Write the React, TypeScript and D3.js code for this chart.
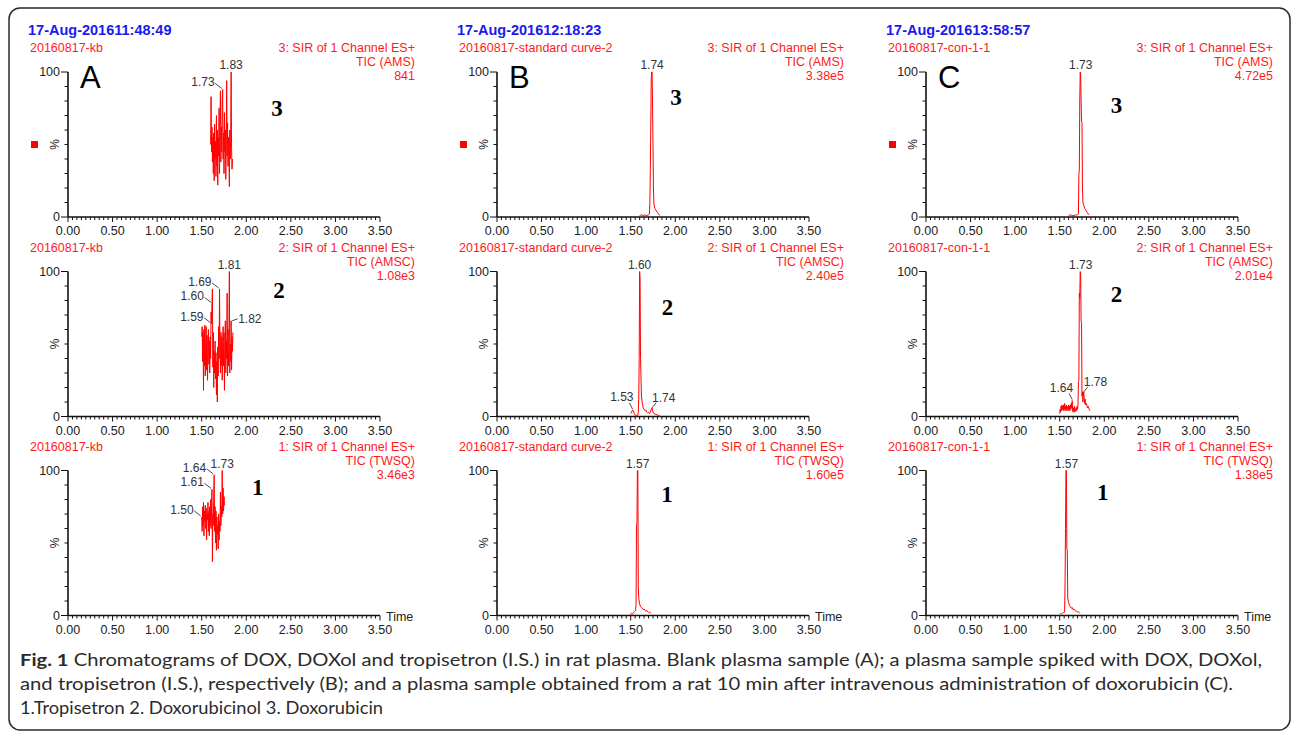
import * as d3 from 'd3';
import React from 'react';

// panel headers
const panelLetters = ['A', 'B', 'C'];
const acquiredAt = ['17-Aug-201611:48:49', '17-Aug-201612:18:23', '17-Aug-201613:58:57'];
const sampleNames = ['20160817-kb', '20160817-standard curve-2', '20160817-con-1-1'];
const channels = ['3: SIR of 1 Channel ES+', '2: SIR of 1 Channel ES+', '1: SIR of 1 Channel ES+'];
const ticNames = ['TIC (AMS)', 'TIC (AMSC)', 'TIC (TWSQ)'];
const compoundNums = ['3', '2', '1'];
const maxIntensity = [
  ['841', '1.08e3', '3.46e3'],
  ['3.38e5', '2.40e5', '1.60e5'],
  ['4.72e5', '2.01e4', '1.38e5'],
];
const timeTicks = [0, 0.5, 1, 1.5, 2, 2.5, 3, 3.5];

// traces, [time (min), relative abundance %]
const blankDox = [
  [1.600, 50], [1.605, 83], [1.610, 45], [1.615, 62], [1.620, 38], [1.625, 55], [1.630, 30], [1.635, 58],
  [1.640, 25], [1.645, 64], [1.650, 40], [1.655, 52], [1.660, 28], [1.665, 70], [1.670, 35], [1.675, 60],
  [1.680, 22], [1.685, 55], [1.690, 42], [1.695, 75], [1.700, 30], [1.705, 68], [1.710, 87], [1.715, 38],
  [1.720, 62], [1.725, 45], [1.730, 80], [1.735, 88], [1.740, 40], [1.745, 58], [1.750, 30], [1.755, 72],
  [1.760, 45], [1.765, 60], [1.770, 26], [1.775, 50], [1.780, 94], [1.785, 42], [1.790, 65], [1.795, 35],
  [1.800, 55], [1.805, 48], [1.810, 21], [1.815, 60], [1.820, 40], [1.825, 55], [1.830, 100], [1.835, 48],
  [1.840, 33], [1.845, 40],
];
const blankDoxol = [
  [1.500, 55], [1.505, 62], [1.510, 38], [1.515, 58], [1.520, 18], [1.525, 60], [1.530, 35], [1.535, 63],
  [1.540, 28], [1.545, 50], [1.550, 62], [1.555, 32], [1.560, 56], [1.565, 25], [1.570, 48], [1.575, 60],
  [1.580, 36], [1.585, 52], [1.590, 30], [1.595, 55], [1.600, 40], [1.605, 72], [1.610, 64], [1.615, 78],
  [1.620, 88], [1.625, 34], [1.630, 58], [1.635, 20], [1.640, 45], [1.645, 30], [1.650, 52], [1.655, 26],
  [1.660, 44], [1.665, 15], [1.670, 38], [1.675, 10], [1.680, 48], [1.685, 28], [1.690, 62], [1.695, 40],
  [1.700, 88], [1.705, 45], [1.710, 30], [1.715, 58], [1.720, 35], [1.725, 55], [1.730, 25], [1.735, 50],
  [1.740, 62], [1.745, 35], [1.750, 58], [1.755, 18], [1.760, 48], [1.765, 66], [1.770, 30], [1.775, 52],
  [1.780, 40], [1.785, 85], [1.790, 28], [1.795, 60], [1.800, 35], [1.805, 55], [1.810, 100], [1.815, 30],
  [1.820, 50], [1.825, 38], [1.830, 66], [1.835, 32], [1.840, 55], [1.845, 45], [1.850, 58],
];
const blankTrop = [
  [1.500, 68], [1.505, 58], [1.510, 75], [1.515, 62], [1.520, 78], [1.525, 55], [1.530, 72], [1.535, 65],
  [1.540, 76], [1.545, 60], [1.550, 74], [1.555, 52], [1.560, 70], [1.565, 66], [1.570, 78], [1.575, 58],
  [1.580, 72], [1.585, 55], [1.590, 75], [1.595, 62], [1.600, 80], [1.605, 60], [1.610, 74], [1.615, 87],
  [1.620, 37], [1.625, 70], [1.630, 62], [1.635, 82], [1.640, 97], [1.645, 58], [1.650, 75], [1.655, 50],
  [1.660, 72], [1.665, 45], [1.670, 68], [1.675, 56], [1.680, 62], [1.685, 46], [1.690, 70], [1.695, 52],
  [1.700, 65], [1.705, 58], [1.710, 85], [1.715, 62], [1.720, 75], [1.725, 68], [1.730, 100], [1.735, 70],
  [1.740, 88], [1.745, 72], [1.750, 82], [1.755, 76],
];
const stdDox = [
  [1.60, 1], [1.62, 1.5], [1.64, 1], [1.66, 1.5], [1.68, 1], [1.70, 1.5], [1.71, 2], [1.715, 10], [1.72, 32],
  [1.725, 60], [1.73, 95], [1.735, 100], [1.74, 100], [1.745, 75], [1.75, 50], [1.755, 20], [1.76, 9],
  [1.77, 6], [1.78, 5], [1.79, 4], [1.80, 3], [1.81, 2.5], [1.82, 1.5], [1.83, 1],
];
const stdDoxol = [
  [1.50, 2], [1.51, 3], [1.52, 4.5], [1.53, 4], [1.54, 2], [1.55, 1], [1.56, 0.5], [1.57, 0.5], [1.58, 1],
  [1.585, 3], [1.59, 12], [1.595, 40], [1.60, 100], [1.605, 95], [1.61, 40], [1.615, 28], [1.62, 15],
  [1.63, 9], [1.64, 6], [1.65, 5], [1.66, 4], [1.67, 4.5], [1.68, 3], [1.69, 2.5], [1.70, 3], [1.71, 2],
  [1.72, 3], [1.73, 5], [1.74, 6], [1.75, 3], [1.76, 2], [1.78, 1.5], [1.80, 1], [1.82, 0.5], [1.83, 0.3],
];
const stdTrop = [
  [1.49, 0.5], [1.50, 1], [1.51, 1.5], [1.52, 1], [1.53, 2], [1.54, 2.5], [1.55, 3], [1.555, 4], [1.56, 8],
  [1.565, 62], [1.57, 64], [1.575, 100], [1.58, 100], [1.585, 20], [1.59, 12], [1.60, 8], [1.61, 6],
  [1.62, 5.5], [1.63, 5], [1.64, 4], [1.65, 4.5], [1.66, 3.5], [1.67, 3], [1.68, 3.5], [1.69, 2.5],
  [1.70, 2], [1.71, 2.5], [1.72, 2], [1.73, 1.5],
];
const conDox = [
  [1.60, 1], [1.62, 1.5], [1.64, 1], [1.66, 1], [1.68, 1.5], [1.70, 1.5], [1.71, 2], [1.715, 30], [1.72, 32],
  [1.725, 80], [1.73, 100], [1.735, 98], [1.74, 80], [1.745, 66], [1.75, 65], [1.755, 20], [1.76, 10],
  [1.77, 8], [1.78, 6], [1.79, 5], [1.80, 4], [1.81, 3], [1.82, 2], [1.83, 1.5],
];
const conDoxol = [
  [1.50, 2], [1.505, 5], [1.51, 3], [1.515, 7], [1.52, 4], [1.525, 8], [1.53, 5], [1.535, 7], [1.54, 4],
  [1.545, 8], [1.55, 5], [1.555, 9], [1.56, 4], [1.565, 7], [1.57, 5], [1.575, 8], [1.58, 4], [1.585, 6],
  [1.59, 7], [1.595, 4], [1.60, 8], [1.605, 5], [1.61, 7], [1.615, 4], [1.62, 8], [1.625, 5], [1.63, 9],
  [1.635, 6], [1.64, 11], [1.645, 4], [1.65, 3], [1.655, 6], [1.66, 4], [1.665, 7], [1.67, 3], [1.675, 5],
  [1.68, 4], [1.685, 6], [1.69, 4], [1.695, 7], [1.70, 5], [1.705, 8], [1.71, 24], [1.715, 25], [1.72, 85],
  [1.725, 82], [1.73, 100], [1.735, 98], [1.74, 66], [1.745, 64], [1.75, 14], [1.755, 17], [1.76, 10],
  [1.765, 15], [1.77, 17], [1.775, 12], [1.78, 9], [1.785, 12], [1.79, 8], [1.80, 9], [1.81, 6], [1.82, 7],
  [1.83, 5], [1.84, 4],
];
const conTrop = [
  [1.50, 1], [1.51, 1.5], [1.52, 1], [1.53, 1.5], [1.54, 2], [1.55, 2], [1.555, 3], [1.56, 23], [1.565, 60],
  [1.57, 100], [1.575, 100], [1.58, 46], [1.585, 45], [1.59, 12], [1.60, 9], [1.61, 7], [1.62, 6], [1.63, 5],
  [1.64, 5.5], [1.65, 4], [1.66, 4.5], [1.67, 3.5], [1.68, 3], [1.69, 3], [1.70, 2.5], [1.71, 2.5], [1.72, 2],
  [1.73, 1.5],
];
const traces = [
  [blankDox, blankDoxol, blankTrop],
  [stdDox, stdDoxol, stdTrop],
  [conDox, conDoxol, conTrop],
];

// peak labels: [text, time, %, placement]
const peakLabels = [
  [
    [['1.83', 1.83, 100, 'top'], ['1.73', 1.735, 88, 'left']],
    [['1.81', 1.81, 100, 'top'], ['1.69', 1.70, 88, 'left'], ['1.60', 1.615, 78, 'left'],
      ['1.59', 1.61, 64, 'left'], ['1.82', 1.83, 66, 'right']],
    [['1.73', 1.73, 100, 'top'], ['1.64', 1.64, 97, 'left'], ['1.61', 1.615, 87, 'left'], ['1.50', 1.50, 68, 'left']],
  ],
  [
    [['1.74', 1.74, 100, 'top']],
    [['1.60', 1.60, 100, 'top'], ['1.53', 1.52, 4.5, 'upleft'], ['1.74', 1.74, 6, 'upright']],
    [['1.57', 1.578, 100, 'top']],
  ],
  [
    [['1.73', 1.735, 100, 'top']],
    [['1.73', 1.735, 100, 'top'], ['1.64', 1.64, 11, 'upleft'], ['1.78', 1.77, 17, 'upright']],
    [['1.57', 1.575, 100, 'top']],
  ],
];

// where the compound number is written, [time, %] of its baseline
const numberSpots = [
  [[2.345, 70], [2.367, 82], [2.13, 83]],
  [[2.008, 77], [1.913, 70], [1.907, 78]],
  [[2.137, 72], [2.137, 79], [1.982, 80]],
];

const COL_X = [68, 497, 926];
const ROW_Y = [72, 271.5, 470.5];
const W = 312;
const H = 145;
const RED = '#ff1a1a';
const SANS = '"Liberation Sans", Arial, sans-serif';

function Panel({ col, row }: { col: number; row: number }) {
  const x = d3.scaleLinear().domain([0, 3.5]).range([0, W]);
  const y = d3.scaleLinear().domain([0, 100]).range([H, 0]);
  const line = d3.line<number[]>().x(d => x(d[0])).y(d => y(d[1]));
  const minorX = d3.range(0, 71).map(i => i * 0.05);
  const minorY = d3.range(0, 11).map(i => i * 10);
  const spot = numberSpots[col][row];

  return (
    <g transform={`translate(${COL_X[col]},${ROW_Y[row]})`} fontFamily={SANS}>
      {row === 0 && (
        <text x={-40} y={-37} fontSize={14.5} fontWeight="bold" fill="#1a1aee">{acquiredAt[col]}</text>
      )}
      <text x={-38} y={-20} fontSize={12.5} fill={RED}>{sampleNames[col]}</text>
      <text x={347} y={-20} fontSize={12.5} fill={RED} textAnchor="end">{channels[row]}</text>
      <text x={347} y={-6} fontSize={12.5} fill={RED} textAnchor="end">{ticNames[row]}</text>
      <text x={347} y={8} fontSize={12.5} fill={RED} textAnchor="end">{maxIntensity[col][row]}</text>

      {row === 0 && (
        <>
          <text x={12} y={16} fontSize={31} fill="#000">{panelLetters[col]}</text>
          <rect x={-37} y={y(50) - 3.5} width={7} height={7} fill="#f00" />
        </>
      )}

      {/* y axis */}
      <line x1={0} x2={0} y1={y(100)} y2={y(0)} stroke="#111" strokeWidth={1.6} />
      {minorY.map(v => (
        <line key={v} x1={v === 0 || v === 100 ? -7 : -3.5} x2={0} y1={y(v)} y2={y(v)} stroke="#111" strokeWidth={1} />
      ))}
      <text x={-8} y={y(100)} dy="0.35em" fontSize={12.5} textAnchor="end" fill="#222">100</text>
      <text x={-8} y={y(0)} dy="0.35em" fontSize={12.5} textAnchor="end" fill="#222">0</text>
      <text transform={`translate(-9,${y(50)}) rotate(-90)`} fontSize={12} textAnchor="middle" fill="#222">%</text>

      {/* x axis */}
      <line x1={0} x2={W} y1={H} y2={H} stroke="#111" strokeWidth={1.6} />
      {minorX.map((t, i) => (
        <line key={i} x1={x(t)} x2={x(t)} y1={H} y2={H + (i % 10 === 0 ? 5 : 3)} stroke="#111" strokeWidth={1} />
      ))}
      {timeTicks.map(t => (
        <text key={t} x={x(t)} y={H + 18} fontSize={12.5} textAnchor="middle" fill="#222">{d3.format('.2f')(t)}</text>
      ))}
      {row === 2 && (
        <text x={x(3.5) + 6} y={H + 5} fontSize={12.5} fill="#222">Time</text>
      )}

      <path d={line(traces[col][row] as number[][]) || ''} fill="none" stroke="#f00" strokeWidth={1} />

      {(peakLabels[col][row] as any[]).map(([label, t, v, where], i) => {
        const px = x(t);
        const py = y(v);
        if (where === 'top') {
          return <text key={i} x={px} y={py - 3} fontSize={12} textAnchor="middle" fill="#333">{label}</text>;
        }
        if (where === 'left') {
          return (
            <g key={i}>
              <text x={px - 8} y={py - 3} fontSize={12} textAnchor="end" fill="#333">{label}</text>
              <line x1={px - 7.5} y1={py - 6} x2={px - 1} y2={py - 1} stroke="#333" strokeWidth={0.9} />
            </g>
          );
        }
        if (where === 'right') {
          return (
            <g key={i}>
              <text x={px + 7} y={py + 2} fontSize={12} fill="#333">{label}</text>
              <line x1={px + 6.5} y1={py - 2} x2={px + 1} y2={py} stroke="#333" strokeWidth={0.9} />
            </g>
          );
        }
        if (where === 'upleft') {
          return (
            <g key={i}>
              <text x={px + 1} y={py - 9} fontSize={12} textAnchor="end" fill="#333">{label}</text>
              <line x1={px - 3} y1={py - 7} x2={px} y2={py - 1} stroke="#333" strokeWidth={0.9} />
            </g>
          );
        }
        return (
          <g key={i}>
            <text x={px} y={py - 6} fontSize={12} fill="#333">{label}</text>
            <line x1={px + 4} y1={py - 5} x2={px} y2={py} stroke="#333" strokeWidth={0.9} />
          </g>
        );
      })}

      <text x={x(spot[0])} y={y(spot[1])} fontSize={23} fontWeight="bold" textAnchor="middle"
        fontFamily='"Liberation Serif", "Times New Roman", serif' fill="#000">{compoundNums[row]}</text>
    </g>
  );
}

export default function App() {
  const cols = [0, 1, 2];
  const rows = [0, 1, 2];
  return (
    <>
      <style>{'body{margin:0}'}</style>
      <svg width={1292} height={734} style={{ display: 'block', background: '#fff' }}>
        <rect x={9} y={8} width={1281} height={722} rx={11} fill="none" stroke="#2a2a2a" strokeWidth={1.5} />
        {cols.map(c => rows.map(r => <Panel key={`${c}-${r}`} col={c} row={r} />))}
        <g fontFamily='Lato, "Open Sans", sans-serif' fontSize={17} fill="#2b2b2b">
          <text x={20} y={666} textLength={1242} lengthAdjust="spacingAndGlyphs">
            <tspan fontWeight="bold">Fig. 1</tspan> Chromatograms of DOX, DOXol and tropisetron (I.S.) in rat plasma. Blank plasma sample (A); a plasma sample spiked with DOX, DOXol,
          </text>
          <text x={20} y={690} textLength={1213} lengthAdjust="spacingAndGlyphs">
            and tropisetron (I.S.), respectively (B); and a plasma sample obtained from a rat 10 min after intravenous administration of doxorubicin (C).
          </text>
          <text x={20} y={714} textLength={363} lengthAdjust="spacingAndGlyphs">
            1.Tropisetron 2. Doxorubicinol 3. Doxorubicin
          </text>
        </g>
      </svg>
    </>
  );
}
